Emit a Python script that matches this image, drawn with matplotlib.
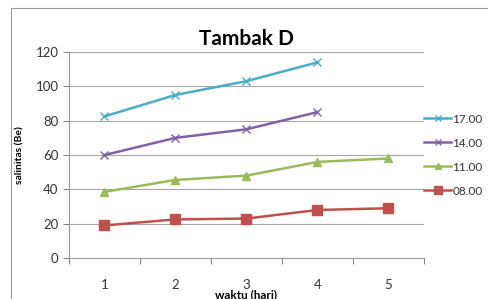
import matplotlib.pyplot as plt
from matplotlib.patches import Rectangle

hari = [1, 2, 3, 4, 5]
s1700 = [82.5, 95, 103, 114]
s1400 = [60, 70, 75, 85]
s1100 = [38.5, 45.5, 48, 56, 58]
s0800 = [19, 22.5, 23, 28, 29]
labels = ["17.00", "14.00", "11.00", "08.00"]

plt.rcParams["font.family"] = ["Lato", "DejaVu Sans"]

fig = plt.figure(figsize=(4.89, 2.99), dpi=100)
fig.patches.append(Rectangle((11 / 489, -0.05), 2, 1.05 - 8 / 299, transform=fig.transFigure,
                             fill=False, edgecolor="#9a9a9a", lw=0.8))
ax = fig.add_axes([0.141, 0.137, 0.726, 0.689])

ax.plot(hari[:4], s1700, color="#4BACC6", marker="x", ms=6, lw=1.8, label=labels[0])
ax.plot(hari[:4], s1400, color="#8064A2", marker="x", ms=6, lw=1.8, label=labels[1])
ax.plot(hari, s1100, color="#9BBB59", marker="^", ms=6, lw=1.8, label=labels[2])
ax.plot(hari, s0800, color="#C0504D", marker="s", ms=6.5, lw=1.8, label=labels[3])

ax.set_xlim(0.5, 5.5)
ax.set_ylim(0, 120)
ax.set_yticks(range(0, 121, 20))
ax.set_xticks([0.5, 1.5, 2.5, 3.5, 4.5, 5.5])
ax.set_xticklabels([])
ax.set_xticks(hari, minor=True)
ax.set_xticklabels([str(h) for h in hari], minor=True)
ax.tick_params(axis="x", which="minor", length=0, pad=15, labelsize=9.5, colors="#333333")
ax.tick_params(axis="x", which="major", length=4, color="#888888")
ax.tick_params(axis="y", length=4, color="#888888", labelsize=9.5, labelcolor="#333333")
ax.grid(axis="y", color="#a5a5a5", lw=0.8)
ax.set_axisbelow(True)
for s in ["top", "right"]:
    ax.spines[s].set_visible(False)
for s in ["left", "bottom"]:
    ax.spines[s].set_color("#999999")

ax.set_title("Tambak D", fontsize=15, fontweight="bold", pad=5)
ax.set_ylabel("salinitas (Be)", fontsize=7.5, fontweight="bold", labelpad=8)
ax.set_xlabel("waktu (hari)", fontsize=8.5, fontweight="bold", labelpad=-1)

leg = ax.legend(loc="center left", bbox_to_anchor=(1.0, 0.5), frameon=False, fontsize=8.5,
                handlelength=2.3, handletextpad=0.1, labelspacing=1.1, borderaxespad=0,
                borderpad=0, markerscale=0.8)
for t in leg.get_texts():
    t.set_color("#333333")

fig.savefig("out.png", dpi=100)
